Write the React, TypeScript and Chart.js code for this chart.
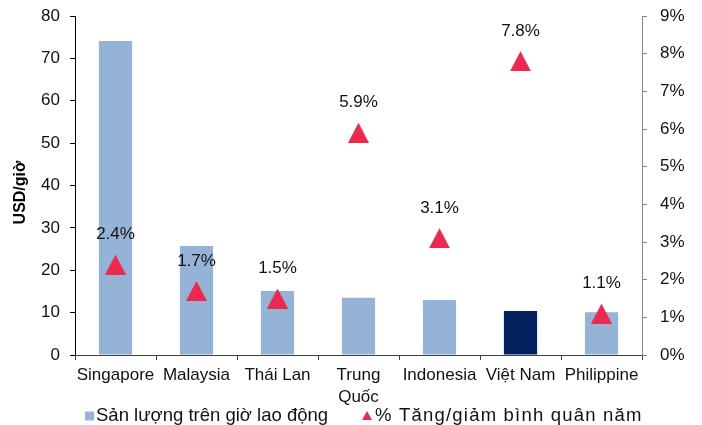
import React, { useEffect, useRef } from 'react';
import { Chart, registerables } from 'chart.js';

Chart.register(...registerables);

const FONT = '"Liberation Sans", Arial, Helvetica, sans-serif';

// Categories (economies)
const categories: (string | string[])[] = [
  'Singapore',
  'Malaysia',
  'Thái Lan',
  ['Trung', 'Quốc'],
  'Indonesia',
  'Việt Nam',
  'Philippine',
];

// Output per working hour, USD/hour
const productivity = [74.1, 25.7, 15.1, 13.5, 13.0, 10.4, 10.1];

// Average annual change, %
const growth = [2.4, 1.7, 1.5, 5.9, 3.1, 7.8, 1.1];

const barSeriesName = 'Sản lượng trên giờ lao động';
const pointSeriesName = '% Tăng/giảm bình quân năm';
const axisTitle = 'USD/giờ';
const highlighted = 'Việt Nam';

const LIGHT_BLUE = '#95B3D7';
const NAVY = '#021F5E';
const RED = '#EC2A50';
const TEXT = '#111111';

function makeTriangle(w: number, h: number, color: string): HTMLCanvasElement {
  const c = document.createElement('canvas');
  c.width = w;
  c.height = h;
  const g = c.getContext('2d')!;
  g.fillStyle = color;
  g.beginPath();
  g.moveTo(w / 2, 0);
  g.lineTo(w, h);
  g.lineTo(0, h);
  g.closePath();
  g.fill();
  return c;
}

// keep the plot area tight to the layout padding
const trimVerticalPadding = (s: any, width: number) => {
  s.width = width;
  s.paddingTop = 4;
  s.paddingBottom = 4;
};

const labelsPlugin = {
  id: 'valueLabelsAndLegend',
  afterDatasetsDraw(chart: any) {
    const ctx = chart.ctx as CanvasRenderingContext2D;
    const meta = chart.getDatasetMeta(1);
    ctx.save();
    ctx.font = `17px ${FONT}`;
    ctx.fillStyle = TEXT;
    ctx.textAlign = 'center';
    ctx.textBaseline = 'middle';
    meta.data.forEach((pt: any, i: number) => {
      ctx.fillText(`${growth[i].toFixed(1)}%`, pt.x, pt.y - 30);
    });
    ctx.restore();
  },
  afterDraw(chart: any) {
    const ctx = chart.ctx as CanvasRenderingContext2D;
    const area = chart.chartArea;

    // rotated left axis title
    ctx.save();
    ctx.font = `bold 16px ${FONT}`;
    ctx.fillStyle = '#000';
    ctx.textAlign = 'center';
    ctx.textBaseline = 'middle';
    ctx.translate(21, (area.top + area.bottom) / 2 + 7);
    ctx.rotate(-Math.PI / 2);
    ctx.fillText(axisTitle, 0, 0);
    ctx.restore();

    // legend row
    ctx.save();
    ctx.font = `18.5px ${FONT}`;
    ctx.textBaseline = 'middle';
    ctx.textAlign = 'left';
    const y = chart.height - 9;
    const box = 9;
    const gapText = 2;
    const triW = 10;
    const gapItems = 34;
    let x = area.left + 10;
    ctx.fillStyle = LIGHT_BLUE;
    ctx.fillRect(x, y - box / 2, box, box);
    x += box + gapText;
    ctx.fillStyle = TEXT;
    ctx.fillText(barSeriesName, x, y);
    x += ctx.measureText(barSeriesName).width + gapItems;
    ctx.fillStyle = RED;
    ctx.beginPath();
    ctx.moveTo(x + triW / 2, y - 5);
    ctx.lineTo(x + triW, y + 4);
    ctx.lineTo(x, y + 4);
    ctx.closePath();
    ctx.fill();
    x += triW + gapText + 1;
    ctx.fillStyle = TEXT;
    (ctx as any).letterSpacing = '1.2px';
    ctx.fillText(pointSeriesName, x, y);
    ctx.restore();
  },
};

export default function App() {
  const canvasRef = useRef<HTMLCanvasElement | null>(null);

  useEffect(() => {
    document.body.style.margin = '0';
    const canvas = canvasRef.current;
    if (!canvas) return;
    const triangle = makeTriangle(21, 20, RED);
    const barColors = categories.map((c) => (c === highlighted ? NAVY : LIGHT_BLUE));

    const chart = new Chart(canvas, {
      type: 'bar',
      data: {
        labels: categories as any,
        datasets: [
          {
            type: 'bar',
            label: barSeriesName,
            data: productivity,
            backgroundColor: barColors,
            borderWidth: 0,
            categoryPercentage: 1,
            barPercentage: 0.41,
            yAxisID: 'y',
            order: 1,
          },
          {
            type: 'line',
            label: pointSeriesName,
            data: growth,
            showLine: false,
            pointStyle: triangle as any,
            pointRadius: 10,
            pointBackgroundColor: RED,
            pointBorderWidth: 0,
            yAxisID: 'y1',
            order: 0,
          } as any,
        ],
      },
      options: {
        animation: false,
        responsive: false,
        devicePixelRatio: 1,
        layout: { padding: { top: 16, left: 0, right: 0, bottom: 0 } },
        plugins: {
          legend: { display: false },
          tooltip: { enabled: false },
        },
        scales: {
          x: {
            offset: true,
            grid: {
              drawOnChartArea: false,
              drawTicks: true,
              tickLength: 5,
              color: '#404040',
              offset: true,
            },
            border: { color: '#404040', width: 1 },
            ticks: {
              font: { size: 17, family: FONT, lineHeight: 1.3 },
              color: TEXT,
              padding: 4,
              autoSkip: false,
              maxRotation: 0,
              minRotation: 0,
            },
            afterFit: (s: any) => {
              s.height = 70;
            },
          },
          y: {
            position: 'left',
            min: 0,
            max: 80,
            ticks: {
              stepSize: 10,
              font: { size: 17, family: FONT },
              color: TEXT,
              padding: 10,
            },
            grid: { drawOnChartArea: false, tickLength: 5, color: '#000' },
            border: { color: '#000', width: 1 },
            afterFit: (s: any) => trimVerticalPadding(s, 75),
          },
          y1: {
            position: 'right',
            min: 0,
            max: 9,
            ticks: {
              stepSize: 1,
              font: { size: 17, family: FONT },
              color: TEXT,
              padding: 13,
              callback: (v: any) => `${v}%`,
            },
            grid: { drawOnChartArea: false, tickLength: 5, color: '#868686' },
            border: { color: '#868686', width: 1 },
            afterFit: (s: any) => trimVerticalPadding(s, 60),
          },
        },
      },
      plugins: [labelsPlugin],
    });

    return () => chart.destroy();
  }, []);

  return (
    <div style={{ width: 702, height: 425, background: '#fff' }}>
      <canvas ref={canvasRef} width={702} height={425} style={{ display: 'block' }} />
    </div>
  );
}
